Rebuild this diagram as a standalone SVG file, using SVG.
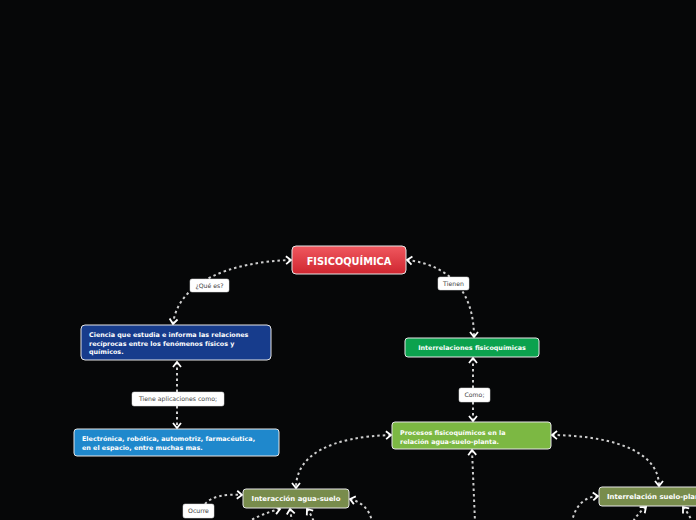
<svg xmlns="http://www.w3.org/2000/svg" width="696" height="520" viewBox="0 0 696 520">
<defs>
<linearGradient id="rg" x1="0" y1="0" x2="0" y2="1"><stop offset="0" stop-color="#f0585f"/><stop offset="1" stop-color="#cf2630"/></linearGradient>
<marker id="a" markerWidth="12" markerHeight="12" refX="6" refY="6" orient="auto-start-reverse" markerUnits="userSpaceOnUse"><path d="M1,2 L6,6 L1,10" fill="none" stroke="#fff" stroke-width="1.8"/></marker>
</defs>
<style>
.c{fill:none;stroke:#cfcfcf;stroke-width:2;stroke-dasharray:2.5 3}
.n{stroke:#e6e6e6;stroke-width:1}
.t{font-family:"DejaVu Sans",Verdana,sans-serif;font-weight:bold;fill:#fff;font-size:6.4px}
.o{font-size:6.9px}
.lb{fill:#fff;stroke:#ddd;stroke-width:0.5}
.lt{font-family:"DejaVu Sans",Verdana,sans-serif;fill:#444;font-size:6.2px;text-anchor:middle}
</style>
<rect width="696" height="520" fill="#060708"/>
<g id="connectors">
<path class="c" d="M291,260 C230,262 178,282 173,324" marker-start="url(#a)" marker-end="url(#a)"/>
<path class="c" d="M407,260 C450,265 474,292 474,337" marker-start="url(#a)" marker-end="url(#a)"/>
<path class="c" d="M177,362 L177,428" marker-start="url(#a)" marker-end="url(#a)"/>
<path class="c" d="M473,358 L473,421" marker-start="url(#a)" marker-end="url(#a)"/>
<path class="c" d="M391,435 C330,437 296,455 296,488" marker-start="url(#a)" marker-end="url(#a)"/>
<path class="c" d="M552,435 C622,436 659,455 659,486" marker-start="url(#a)" marker-end="url(#a)"/>
<path class="c" d="M472,450 L475,522" marker-start="url(#a)"/>
<path class="c" d="M205,504 C212,496 225,494 242,495" marker-end="url(#a)"/>
<path class="c" d="M350,499 C362,502 370,510 372,522" marker-start="url(#a)"/>
<path class="c" d="M280,509 C268,512 258,516 248,522" marker-start="url(#a)"/>
<path class="c" d="M290,509 L292,522" marker-start="url(#a)"/>
<path class="c" d="M307,509 C310,513 312,517 314,522" marker-start="url(#a)"/>
<path class="c" d="M598,496 C585,497 575,505 572,522" marker-start="url(#a)"/>
<path class="c" d="M646,507 C640,512 636,516 633,522" marker-start="url(#a)"/>
<path class="c" d="M683,507 C687,512 690,516 692,522" marker-start="url(#a)"/>
</g>
<g id="lbl-que"><rect class="lb" x="190" y="279" width="39" height="13" rx="2"/><text class="lt" x="209.5" y="287.8">¿Qué es?</text></g>
<g id="lbl-tienen"><rect class="lb" x="438" y="277" width="31" height="13" rx="2"/><text class="lt" x="453.5" y="285.8">Tienen</text></g>
<g id="lbl-tiene"><rect class="lb" x="132" y="392" width="92" height="14" rx="2"/><text class="lt" x="178" y="401.2">Tiene aplicaciones como;</text></g>
<g id="lbl-como"><rect class="lb" x="459" y="388" width="31" height="14" rx="2"/><text class="lt" x="474.5" y="397.2">Como;</text></g>
<g id="lbl-ocurre"><rect class="lb" x="183" y="504" width="31" height="14" rx="2"/><text class="lt" x="198.5" y="513.2">Ocurre</text></g>
<g id="n-fisico"><rect class="n" x="292" y="246" width="114" height="28" rx="4" fill="url(#rg)"/><text class="t" x="349" y="264.5" text-anchor="middle" style="font-size:9.8px">FISICOQUÍMICA</text></g>
<g id="n-ciencia"><rect class="n" x="81" y="325" width="190" height="35" rx="4" fill="#173c8c"/><text class="t" x="89" y="337">Ciencia que estudia e informa las relaciones</text><text class="t" x="89" y="345.5">recíprocas entre los fenómenos físicos y</text><text class="t" x="89" y="354">químicos.</text></g>
<g id="n-inter"><rect class="n" x="405" y="338" width="134" height="19" rx="3" fill="#0ba24e"/><text class="t" x="472" y="350" text-anchor="middle">Interrelaciones fisicoquímicas</text></g>
<g id="n-electro"><rect class="n" x="74" y="429" width="205" height="27" rx="3" fill="#1f88cc"/><text class="t" x="82" y="440.5">Electrónica, robótica, automotriz, farmacéutica,</text><text class="t" x="82" y="449.5">en el espacio, entre muchas mas.</text></g>
<g id="n-procesos"><rect class="n" x="392" y="422" width="159" height="27" rx="3" fill="#7cb843"/><text class="t" x="400" y="434.5">Procesos fisicoquímicos en la</text><text class="t" x="400" y="443.5">relación agua-suelo-planta.</text></g>
<g id="n-agua"><rect class="n" x="243" y="489" width="106" height="19" rx="3" fill="#788c4c"/><text class="t o" x="296" y="501.2" text-anchor="middle">Interacción agua-suelo</text></g>
<g id="n-suelo"><rect class="n" x="599" y="487" width="110" height="19" rx="3" fill="#788c4c"/><text class="t o" x="607" y="499.2">Interrelación suelo-planta</text></g>
</svg>
